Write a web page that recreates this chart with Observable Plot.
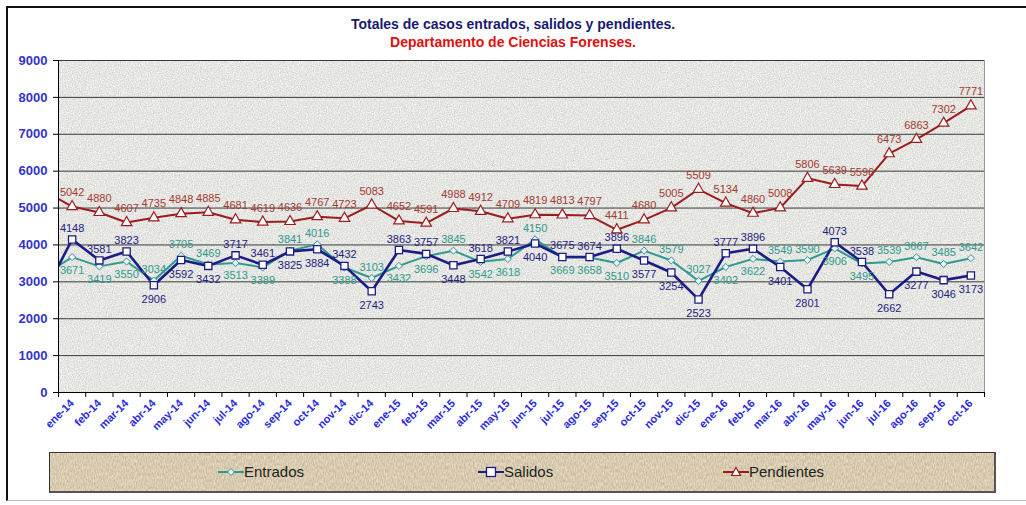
<!DOCTYPE html>
<html><head><meta charset="utf-8">
<script src="https://cdn.jsdelivr.net/npm/d3@7"></script>
<script src="https://cdn.jsdelivr.net/npm/@observablehq/plot@0.6"></script>
<style>
body{margin:0;background:#fff;font-family:Arial,"Liberation Sans",sans-serif;}
#wrap{position:relative;width:1026px;height:505px;overflow:hidden;background:#fff;}
#frame{position:absolute;left:6px;top:6px;width:1030px;height:492px;border-left:2px solid #111;border-top:2px solid #111;border-bottom:1px solid #bbb;}
.t{position:absolute;left:0;width:1026px;text-align:center;font-weight:bold;font-size:13px;font-family:"Liberation Sans Narrow","Arial Narrow",Arial,sans-serif;}
#t1{top:16px;color:#1a1a70;font-size:14px;}
#t2{top:34px;color:#e01010;font-size:14px;}
#chart{position:absolute;left:0;top:0;}
#legend{position:absolute;left:49px;top:452px;width:944px;height:38px;background:#d9cfbd;border:1px solid #333;border-bottom:2px solid #555;border-right:2px solid #555;overflow:hidden;}
#legbg{position:absolute;left:0;top:0;}
.li{position:absolute;top:10px;font-size:15px;color:#222;font-family:Arial,"Liberation Sans",sans-serif;line-height:18px;}
.li svg{position:absolute;top:3px;}
</style></head>
<body><div id="wrap"><div id="frame"></div>
<div class="t" id="t1">Totales de casos entrados, salidos y pendientes.</div>
<div class="t" id="t2">Departamento de Ciencias Forenses.</div>
<div id="chart"></div>
<div id="legend"><svg id="legbg" width="944" height="38"><defs>
<filter id="linen" x="0" y="0" width="1" height="1" color-interpolation-filters="sRGB">
<feTurbulence type="fractalNoise" baseFrequency="0.9 0.3" numOctaves="2" seed="7" result="n"/>
<feColorMatrix in="n" type="matrix" values="0.26 0 0 0 0.72  0.26 0 0 0 0.665  0.26 0 0 0 0.56  0 0 0 0 1"/>
</filter></defs><rect width="944" height="38" filter="url(#linen)"/></svg></div>
</div>
<script>
const months = ["ene-14","feb-14","mar-14","abr-14","may-14","jun-14","jul-14","ago-14","sep-14","oct-14","nov-14","dic-14",
"ene-15","feb-15","mar-15","abr-15","may-15","jun-15","jul-15","ago-15","sep-15","oct-15","nov-15","dic-15",
"ene-16","feb-16","mar-16","abr-16","may-16","jun-16","jul-16","ago-16","sep-16","oct-16"];
const entrados = [3671,3419,3550,3034,3705,3469,3513,3389,3841,4016,3388,3103,
3432,3696,3845,3542,3618,4150,3669,3658,3510,3846,3579,3027,
3402,3622,3549,3590,3906,3495,3539,3667,3485,3642];
const salidos = [4148,3581,3823,2906,3592,3432,3717,3461,3825,3884,3432,2743,
3863,3757,3448,3618,3821,4040,3675,3674,3896,3577,3254,2523,
3777,3896,3401,2801,4073,3538,2662,3277,3046,3173];
const pendientes = [5042,4880,4607,4735,4848,4885,4681,4619,4636,4767,4723,5083,
4652,4591,4988,4912,4709,4819,4813,4797,4411,4680,5005,5509,
5134,4860,5008,5806,5639,5596,6473,6863,7302,7771];
// previous month (dic-13), only visible as the line entering from the left edge
const prevEntrados = 3200, prevSalidos = 2720, prevPendientes = 5450;
const yTicks = [0,1000,2000,3000,4000,5000,6000,7000,8000,9000];

const C = {e:"#2f9a8e", s:"#1c1c86", p:"#9b1c1c", pl:"#a33a30", el:"#2e9a8a", sl:"#23237e"};

const mk = (arr, prev) => [{i:-1, v:prev}, ...arr.map((v,i)=>({i, v}))];
const E = mk(entrados, prevEntrados), S = mk(salidos, prevSalidos), P = mk(pendientes, prevPendientes);
const pts = arr => arr.map((v,i)=>({i, v}));
const eAbove = entrados.map((v,i)=> v > salidos[i]);

const plot = Plot.plot({
  width:1026, height:445,
  marginTop:60, marginBottom:53, marginLeft:58, marginRight:42,
  x:{type:"linear", domain:[-0.5,33.5]},
  y:{domain:[0,9000]},
  style:{fontFamily:"Arial, 'Liberation Sans', sans-serif", background:"transparent", overflow:"visible"},
  marks:[
    Plot.frame({fill:"#e4e4e2", stroke:null, ariaLabel:"plotbg"}),
    Plot.ruleY(yTicks.slice(1), {stroke:"#3a3a3a", strokeWidth:1}),
    Plot.ruleX([33.5], {stroke:"#999"}),
    Plot.line(E, {x:"i", y:"v", stroke:C.e, strokeWidth:2, clip:true}),
    Plot.line(S, {x:"i", y:"v", stroke:C.s, strokeWidth:2.6, clip:true}),
    Plot.line(P, {x:"i", y:"v", stroke:C.p, strokeWidth:2, clip:true}),
    Plot.dot(pts(entrados), {x:"i", y:"v", symbol:"diamond2", r:3.2, stroke:C.e, fill:"#eef", strokeWidth:1}),
    Plot.dot(pts(salidos), {x:"i", y:"v", symbol:"square2", r:4.6, stroke:C.s, fill:"#fff", strokeWidth:1.3}),
    Plot.dot(pts(pendientes), {x:"i", y:"v", symbol:"triangle2", r:5, stroke:C.p, fill:"#fff", strokeWidth:1.2}),
    Plot.text(pts(pendientes), {x:"i", y:"v", text:d=>String(d.v), dy:-14, fill:C.pl, fontSize:11}),
    Plot.text(pts(salidos), {x:"i", y:"v", text:d=>String(d.v), fill:C.sl, fontSize:11,
      filter:d=>eAbove[d.i], dy:14}),
    Plot.text(pts(salidos), {x:"i", y:"v", text:d=>String(d.v), fill:C.sl, fontSize:11,
      filter:d=>!eAbove[d.i], dy:-11}),
    Plot.text(pts(entrados), {x:"i", y:"v", text:d=>String(d.v), fill:C.el, fontSize:11,
      filter:d=>eAbove[d.i], dy:-11}),
    Plot.text(pts(entrados), {x:"i", y:"v", text:d=>String(d.v), fill:C.el, fontSize:11,
      filter:d=>!eAbove[d.i], dy:13}),
    Plot.axisY({ticks:yTicks, tickSize:5, tickPadding:6, tickFormat:d=>String(d), stroke:"#000", fill:"#3434c8", fontWeight:"bold", fontSize:13, label:null}),
    Plot.axisX(d3.range(-0.5,34,1), {tickSize:5, tickFormat:()=>"", stroke:"#000", label:null}),
    Plot.axisX(d3.range(0,34), {tickSize:0, tickPadding:9, tickRotate:-45, tickFormat:i=>months[i], fill:"#2a2ae0", fontWeight:"bold", fontSize:11, label:null}),
    Plot.ruleY([0], {stroke:"#000"}),
    Plot.ruleX([-0.5], {stroke:"#000"})
  ]
});
// granite texture for the plot area
const ns = "http://www.w3.org/2000/svg";
const defs = document.createElementNS(ns, "defs");
defs.innerHTML = `<filter id="granite" x="0" y="0" width="1" height="1" color-interpolation-filters="sRGB">
<feTurbulence type="fractalNoise" baseFrequency="0.85" numOctaves="3" seed="3" result="n"/>
<feColorMatrix in="n" type="matrix" values="0.26 0 0 0 0.77  0.26 0 0 0 0.77  0.26 0 0 0 0.76  0 0 0 0 1"/>
</filter>`;
plot.insertBefore(defs, plot.firstChild);
const bg = plot.querySelector('[aria-label="plotbg"] rect') || plot.querySelector('rect[aria-label="plotbg"]');
if (bg) bg.setAttribute("filter", "url(#granite)");
document.getElementById("chart").appendChild(plot);

// legend
const leg = document.getElementById("legend");
const items = [
  {name:"Entrados", x:168, color:C.e, sym:"diamond"},
  {name:"Salidos", x:428, color:C.s, sym:"square"},
  {name:"Pendientes", x:673, color:C.p, sym:"triangle"}
];
items.forEach(it=>{
  const d = document.createElement("div");
  d.className = "li";
  d.style.left = (it.x + 26) + "px";
  let shape = "";
  if (it.sym==="diamond") shape = `<path d="M13,2.5 L16.5,6 L13,9.5 L9.5,6Z" fill="#eef" stroke="${it.color}" stroke-width="1"/>`;
  if (it.sym==="square") shape = `<rect x="8.5" y="1.5" width="9" height="9" fill="#fff" stroke="${it.color}" stroke-width="1.3"/>`;
  if (it.sym==="triangle") shape = `<path d="M13,1.5 L17.5,9.5 L8.5,9.5Z" fill="#fff" stroke="${it.color}" stroke-width="1.2"/>`;
  d.innerHTML = `<svg width="26" height="12" style="left:-26px"><line x1="0" x2="26" y1="6" y2="6" stroke="${it.color}" stroke-width="2"/>${shape}</svg>${it.name}`;
  leg.appendChild(d);
});
</script>
</body></html>
